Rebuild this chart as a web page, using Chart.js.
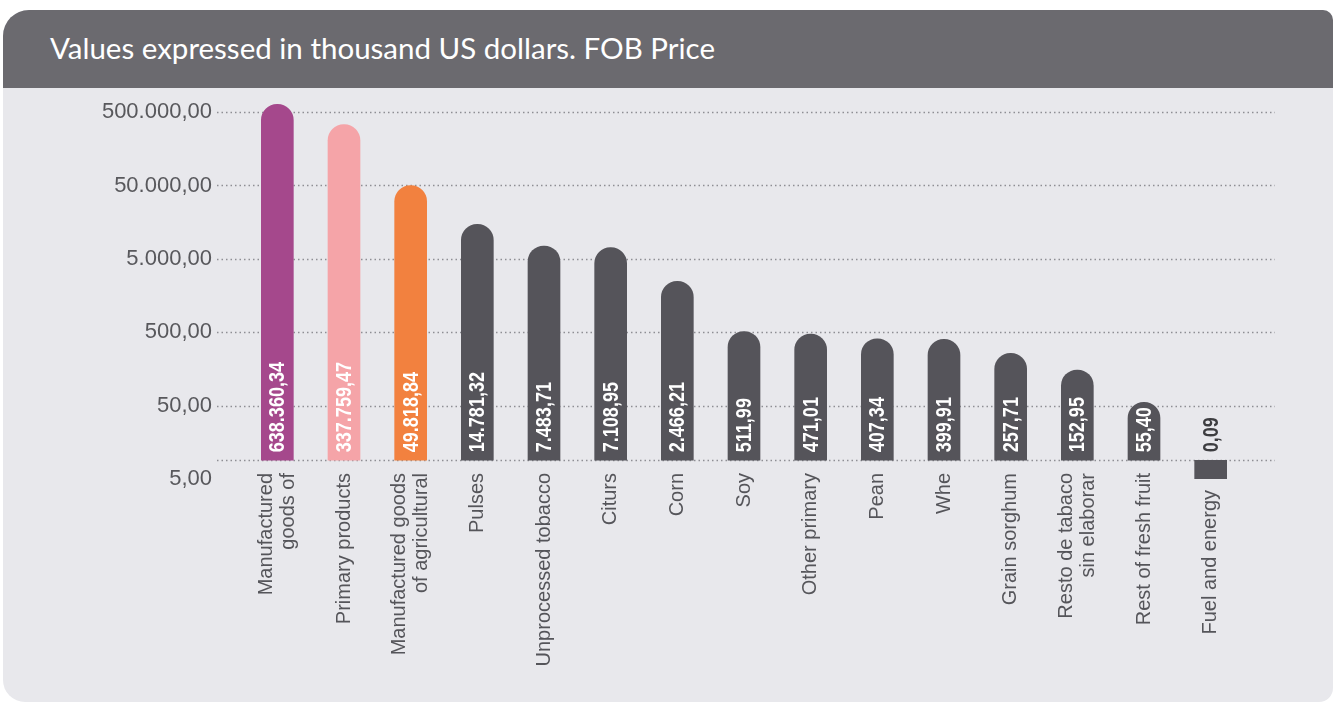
<!DOCTYPE html>
<html>
<head>
<meta charset="utf-8">
<script src="https://cdn.jsdelivr.net/npm/chart.js@4.4.0/dist/chart.umd.min.js"></script>
<style>
body{margin:0;background:#fff;width:1333px;height:704px;overflow:hidden;position:relative}
.card{position:absolute;left:3px;top:10px;width:1330px;height:692px;background:#e8e8ec;border-radius:26px 10px 14px 22px;overflow:hidden}
.head{height:78px;background:#6b6a6f;color:#fff;font-family:Lato,"Open Sans",sans-serif;font-size:29.5px;line-height:76px;padding-left:47px}
#myChart{position:absolute;left:0;top:0}
</style>
</head>
<body>
<div class="card"><div class="head">Values expressed in thousand US dollars. FOB Price</div></div>
<canvas id="myChart" width="1333" height="704"></canvas>
<script>
// categories and values
var categories=[['Manufactured','goods of'],'Primary products',['Manufactured goods','of agricultural'],'Pulses','Unprocessed tobacco','Citurs','Corn','Soy','Other primary','Pean','Whe','Grain sorghum',['Resto de tabaco','sin elaborar'],'Rest of fresh fruit','Fuel and energy']
var values=[638360.34,337759.47,49818.84,14781.32,7483.71,7108.95,2466.21,511.99,471.01,407.34,399.91,257.71,152.95,55.40,0.09]
var yTicks=[5,50,500,5000,50000,500000]

var barColors=['#a5488c','#f5a4a8','#f2813f','#55545a','#55545a','#55545a','#55545a','#55545a','#55545a','#55545a','#55545a','#55545a','#55545a','#55545a','#55545a']
var baseValue=9

function fmt(v){
    var parts=v.toFixed(2).split('.')
    var intPart=parts[0].replace(/\B(?=(\d{3})+(?!\d))/g,'.')
    return intPart+','+parts[1]
}

// dotted horizontal lines, a bit wider than the plot area
var dottedGrid={
    id:'dottedGrid',
    beforeDatasetsDraw:function(chart){
        var ctx=chart.ctx
        var y=chart.scales.y
        var a=chart.chartArea
        var lines=yTicks.slice(1).concat([baseValue])
        ctx.save()
        ctx.strokeStyle='#8e8e94'
        ctx.lineWidth=1.5
        ctx.setLineDash([1.5,3])
        lines.forEach(function(v){
            var py=Math.round(y.getPixelForValue(v))+0.5
            ctx.beginPath()
            ctx.moveTo(a.left-27,py)
            ctx.lineTo(a.right+31,py)
            ctx.stroke()
        })
        ctx.restore()
    }
}

// rotated value text inside the bars
var valueLabels={
    id:'valueLabels',
    afterDatasetsDraw:function(chart){
        var ctx=chart.ctx
        var meta=chart.getDatasetMeta(0)
        var basePx=chart.scales.y.getPixelForValue(baseValue)
        ctx.save()
        ctx.font='bold 22px "Liberation Sans", Arial, sans-serif'
        ctx.textAlign='left'
        ctx.textBaseline='middle'
        meta.data.forEach(function(bar,i){
            ctx.save()
            ctx.translate(bar.x+1,basePx-8)
            ctx.rotate(-Math.PI/2)
            ctx.scale(0.82,1)
            ctx.fillStyle=values[i]<baseValue?'#3d3d40':'#ffffff'
            ctx.fillText(fmt(values[i]),0,0)
            ctx.restore()
        })
        ctx.restore()
    }
}

// category names, rotated, lines centred on the tick
var catLabels={
    id:'catLabels',
    afterDraw:function(chart){
        var ctx=chart.ctx
        var x=chart.scales.x
        var a=chart.chartArea
        var lh=22
        ctx.save()
        ctx.font='20px "Liberation Sans", Arial, sans-serif'
        ctx.fillStyle='#55555a'
        ctx.textAlign='right'
        ctx.textBaseline='middle'
        categories.forEach(function(c,i){
            var lines=Array.isArray(c)?c:[c]
            var px=x.getPixelForValue(i)
            var top=a.bottom-6
            if(values[i]<baseValue)top=a.bottom+11
            lines.forEach(function(t,j){
                ctx.save()
                ctx.translate(px+(j-(lines.length-1)/2)*lh,top)
                ctx.rotate(-Math.PI/2)
                ctx.fillText(t,0,0)
                ctx.restore()
            })
        })
        ctx.restore()
    }
}

var myChart=document.getElementById('myChart').getContext('2d')
var chart=new Chart(myChart,{
    type:'bar',
    data:{
        labels:categories,
        datasets:[{
            data:values,
            backgroundColor:barColors,
            base:baseValue,
            clip:0,
            barThickness:32,
            borderRadius:function(c){
                return values[c.dataIndex]<baseValue?0:{topLeft:20,topRight:20}
            }
        }]
    },
    options:{
        responsive:false,
        animation:false,
        layout:{padding:{top:90,right:89,bottom:0,left:0}},
        plugins:{legend:{display:false},tooltip:{enabled:false}},
        scales:{
            x:{
                grid:{display:false},
                border:{display:false},
                afterFit:function(axis){axis.height=704-479},
                ticks:{display:false}
            },
            y:{
                type:'logarithmic',
                min:5,
                max:1000000,
                afterBuildTicks:function(axis){
                    axis.ticks=yTicks.map(function(v){return {value:v}})
                },
                afterFit:function(axis){axis.width=244},
                grid:{display:false},
                border:{display:false},
                ticks:{padding:24,color:'#58585c',autoSkip:false,
                    font:{family:'"Liberation Sans", Arial, sans-serif',size:22},
                    callback:function(v){return fmt(v)}}
            }
        }
    },
    plugins:[dottedGrid,valueLabels,catLabels]
})
</script>
</body>
</html>
